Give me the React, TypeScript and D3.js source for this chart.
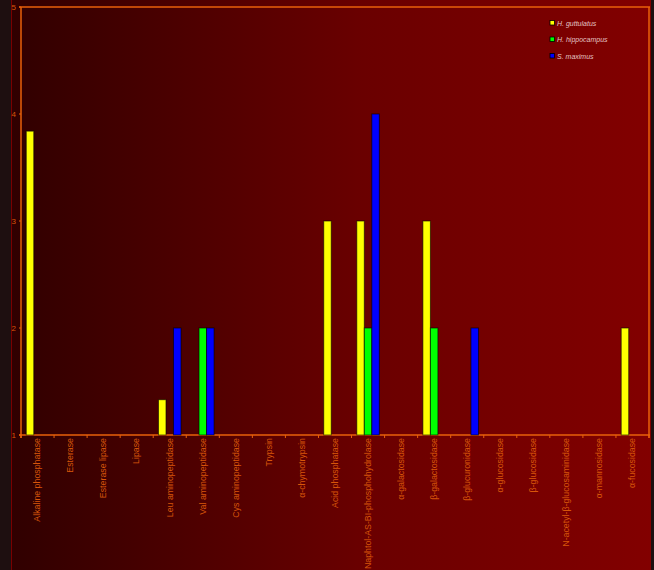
import React from "react";
import * as d3 from "d3";

const categories = [
  "Alkaline phosphatase",
  "Esterase",
  "Esterase lipase",
  "Lipase",
  "Leu aminopeptidase",
  "Val aminopeptidase",
  "Cys aminopeptidase",
  "Trypsin",
  "α-chymotrypsin",
  "Acid phosphatase",
  "Naphtol-AS-BI-phosphohydrolase",
  "α-galactosidase",
  "β-galactosidase",
  "β-glucuronidase",
  "α-glucosidase",
  "β-glucosidase",
  "N-acetyl-β-glucosaminidase",
  "α-mannosidase",
  "α-fucosidase",
];

const seriesNames = ["H. guttulatus", "H. hippocampus", "S. maximus"];
const seriesColors = ["#ffff00", "#00ff00", "#0000ff"];

const guttulatus = [3.84, 1, 1, 1, 1.33, 1, 1, 1, 1, 3, 3, 1, 3, 1, 1, 1, 1, 1, 2];
const hippocampus = [1, 1, 1, 1, 1, 2, 1, 1, 1, 1, 2, 1, 2, 1, 1, 1, 1, 1, 1];
const maximus = [1, 1, 1, 1, 2, 2, 1, 1, 1, 1, 4, 1, 1, 2, 1, 1, 1, 1, 1];

const yTicks = [1, 2, 3, 4, 5];

const W = 654;
const H = 570;
const left = 21;
const right = 649;
const top = 7;
const bottom = 435;
const axisColor = "#e8600a";
const textColor = "#d8560a";

export default function App() {
  const x = d3.scaleBand<string>().domain(categories).range([left, right]).padding(0);
  const inner = d3
    .scaleBand<string>()
    .domain(seriesNames)
    .range([0, x.bandwidth()])
    .paddingOuter(0.7)
    .paddingInner(0);
  const y = d3.scaleLinear().domain([1, 5]).range([bottom, top]);
  const series = [guttulatus, hippocampus, maximus];

  const boundaries = d3.range(categories.length + 1).map((i) => left + i * x.bandwidth());

  return (
    <svg
      width={W}
      height={H}
      style={{ position: "absolute", left: 0, top: 0, display: "block" }}
      fontFamily="Liberation Sans, Arial, sans-serif"
    >
      <defs>
        <linearGradient id="bg" x1="0" x2="1" y1="0" y2="0">
          <stop offset="0" stopColor="#300000" />
          <stop offset="0.55" stopColor="#6a0000" />
          <stop offset="1" stopColor="#820000" />
        </linearGradient>
      </defs>
      <rect x={0} y={0} width={W} height={H} fill="#1e0f10" />
      <rect x={11} y={0} width={640} height={H} fill="url(#bg)" />
      <line x1={11.5} x2={11.5} y1={0} y2={H} stroke="#7a0000" strokeWidth={1} />

      {/* plot frame */}
      <line x1={left - 2} x2={right + 1} y1={top} y2={top} stroke={axisColor} strokeWidth={1.5} />
      <line x1={right} x2={right} y1={top} y2={bottom + 3} stroke={axisColor} strokeWidth={1.5} />
      <line x1={left} x2={left} y1={top} y2={bottom + 3} stroke={axisColor} strokeWidth={1.5} />
      <line x1={left - 2} x2={right + 1} y1={bottom} y2={bottom} stroke={axisColor} strokeWidth={1.5} />

      {yTicks.map((t) => (
        <g key={t}>
          <line x1={left - 2} x2={left} y1={y(t)} y2={y(t)} stroke={axisColor} strokeWidth={1} />
          <text x={16} y={y(t) + 3} fontSize={8} fill={textColor} textAnchor="end">
            {t}
          </text>
        </g>
      ))}

      {boundaries.map((b, i) => (
        <line key={i} x1={b} x2={b} y1={bottom} y2={bottom + 3} stroke={axisColor} strokeWidth={1} />
      ))}

      {categories.map((c, ci) =>
        series.map((s, si) => {
          const v = s[ci];
          if (v <= 1) return null;
          const bx = (x(c) as number) + (inner(seriesNames[si]) as number);
          return (
            <rect
              key={c + si}
              x={bx}
              y={y(v)}
              width={inner.bandwidth()}
              height={y(1) - y(v)}
              fill={seriesColors[si]}
              stroke="#000"
              strokeOpacity={0.6}
              strokeWidth={1}
            />
          );
        })
      )}

      {categories.map((c) => {
        const cx = (x(c) as number) + x.bandwidth() / 2;
        return (
          <text
            key={c}
            transform={`translate(${cx + 2.8},${438}) rotate(-90)`}
            textAnchor="end"
            fontSize={8.8}
            fill={textColor}
          >
            {c}
          </text>
        );
      })}

      {seriesNames.map((n, i) => (
        <g key={n} transform={`translate(550,${23 + i * 16.5})`}>
          <rect x={0} y={-2.5} width={4.5} height={4.5} fill={seriesColors[i]} stroke="#000" strokeWidth={0.8} />
          <text x={7} y={2.5} fontSize={7} fontStyle="italic" fill="#e4c4c4">
            {n}
          </text>
        </g>
      ))}
    </svg>
  );
}
